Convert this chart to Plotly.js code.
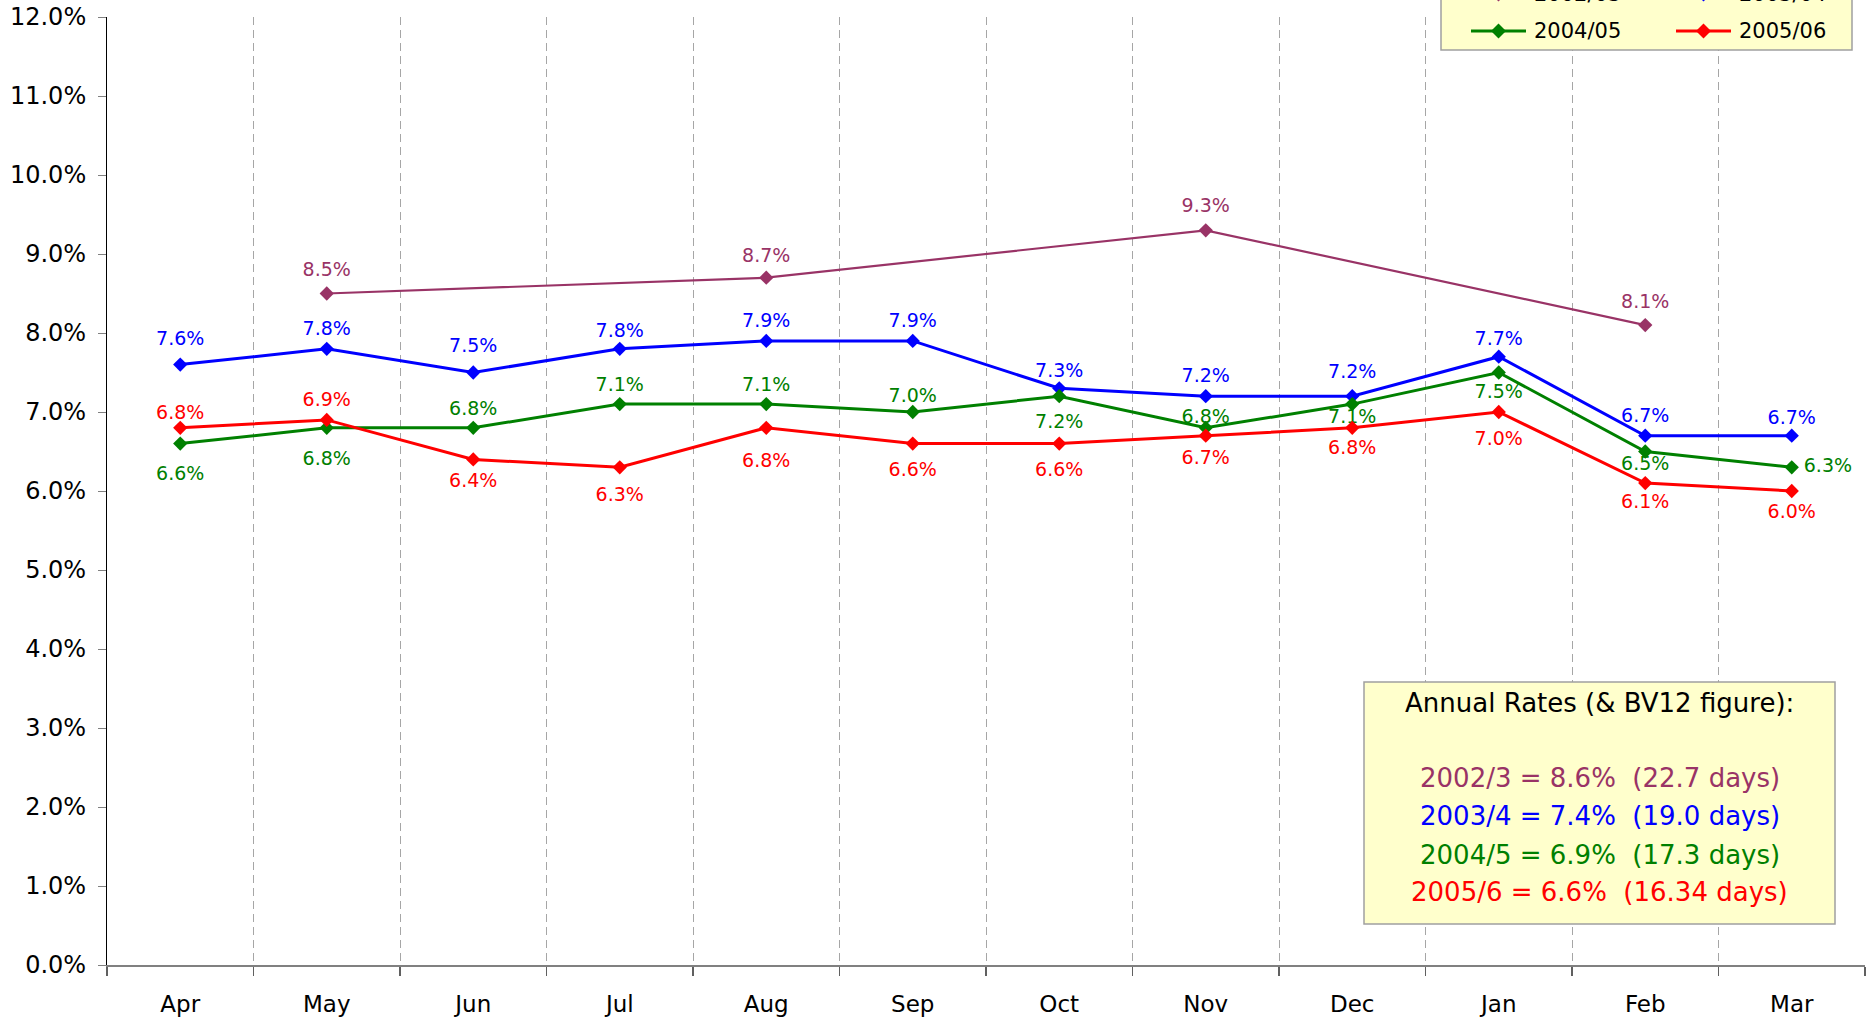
<!DOCTYPE html>
<html><head><meta charset="utf-8">
<script src="https://cdn.plot.ly/plotly-3.0.1.min.js"></script>
<style>html,body{margin:0;padding:0;background:#fff}#chart{width:1869px;height:1024px}</style>
</head><body><div id="chart"></div>
<script>
// ---- data ----
const months = ['Apr','May','Jun','Jul','Aug','Sep','Oct','Nov','Dec','Jan','Feb','Mar'];
const seriesNames = ['2002/03','2003/04','2004/05','2005/06'];
const rate0203 = [null,8.5,null,null,8.7,null,null,9.3,null,null,8.1,null];
const rate0304 = [7.6,7.8,7.5,7.8,7.9,7.9,7.3,7.2,7.2,7.7,6.7,6.7];
const rate0405 = [6.6,6.8,6.8,7.1,7.1,7.0,7.2,6.8,7.1,7.5,6.5,6.3];
const rate0506 = [6.8,6.9,6.4,6.3,6.8,6.6,6.6,6.7,6.8,7.0,6.1,6.0];
const annualTitle = 'Annual Rates (&amp; BV12 figure):';
const annualLines = ['2002/3 = 8.6%&nbsp;&nbsp;(22.7 days)','2003/4 = 7.4%&nbsp;&nbsp;(19.0 days)','2004/5 = 6.9%&nbsp;&nbsp;(17.3 days)','2005/6 = 6.6%&nbsp;&nbsp;(16.34 days)'];

// ---- style ----
const colors = ['#993366','#0000FF','#008000','#FF0000'];
const lineWidths = [2.2, 3, 3, 3];
const FONT = 'DejaVu Sans, Verdana, sans-serif';
const LABEL_SIZE = 19;
const B = 'bottom center', T = 'top center', R = 'middle right';
const pos0203 = months.map(() => T);
const pos0304 = months.map(() => T);
const pos0405 = [B,B,T,T,T,T,B,T,B,B,B,R];
const pos0506 = [T,T,B,B,B,B,B,B,B,B,B,B];
// label distance from marker centre (px) as placed in the reference
const gap0203 = [20,24,20,20,23,20,20,25,20,20,24,20];
const gap0304 = [27,21,27,19,21,21,18,21,25,19,21,19];
const gap0405 = [29,30,20,20,20,17,25,12,12,19,12,12];
const gap0506 = [16,21,21,27,32,25,25,21,19,26,18,20];

function padSize(pos, d) {
  let r;
  if (pos === T) r = d - 0.615 * LABEL_SIZE;
  else if (pos === B) r = d - 0.385 * LABEL_SIZE;
  else r = d;
  if (r <= 1) return 0;
  return (r - 1) * 1.6;
}

const W = 1869, H = 1024, ML = 107, MR = 4, MT = 17, MB = 59;
const PW = W - ML - MR, PH = H - MT - MB;
const px = x => (x - ML) / PW;
const py = y => (H - MB - y) / PH;

const data = [];
// data labels first (invisible markers only set the label offset)
[[rate0203,pos0203,gap0203],[rate0304,pos0304,gap0304],[rate0405,pos0405,gap0405],[rate0506,pos0506,gap0506]].forEach(([y,pos,gap], i) => {
  data.push({
    type:'scatter', mode:'markers+text', name:seriesNames[i] + ' labels', showlegend:false,
    x:months, y:y,
    marker:{size:pos.map((p, k) => padSize(p, gap[k])), color:'rgba(0,0,0,0)', opacity:0,
      line:{width:0, color:'rgba(0,0,0,0)'}},
    texttemplate:'%{y:.1f}%', textposition:pos,
    textfont:{family:FONT, size:LABEL_SIZE, color:colors[i]},
    cliponaxis:false, hoverinfo:'skip'
  });
});
[rate0203, rate0304, rate0405, rate0506].forEach((y, i) => {
  data.push({
    type:'scatter', mode:'lines+markers', name:seriesNames[i],
    x:months, y:y, connectgaps:true,
    line:{color:colors[i], width:lineWidths[i]},
    marker:{symbol:'diamond', size:11, color:colors[i], line:{width:0}},
    cliponaxis:false, hoverinfo:'skip'
  });
});

// legend (top row cropped by the page edge as in reference)
const shapes = [];
const annotations = [];
shapes.push({type:'rect', xref:'paper', yref:'paper', x0:px(1441), x1:px(1852), y0:py(50), y1:py(-40),
  fillcolor:'#FFFFCC', line:{color:'#A0A0A0', width:1.5}});
const legCols = [[1471,1526,1532],[1676,1731,1737]];
const legRows = [-6, 31];
seriesNames.forEach((n, i) => {
  const r = Math.floor(i / 2), c = i % 2;
  const yy = legRows[r], [x0, x1, tx] = legCols[c];
  const cx = (x0 + x1) / 2;
  shapes.push({type:'line', xref:'paper', yref:'paper', x0:px(x0), x1:px(x1), y0:py(yy), y1:py(yy),
    line:{color:colors[i], width:lineWidths[i]}});
  const d = 7.5;
  shapes.push({type:'path', xref:'paper', yref:'paper',
    path:`M${px(cx-d)},${py(yy)} L${px(cx)},${py(yy-d)} L${px(cx+d)},${py(yy)} L${px(cx)},${py(yy+d)} Z`,
    fillcolor:colors[i], line:{color:colors[i], width:0}});
  annotations.push({xref:'paper', yref:'paper', x:px(tx), y:py(yy), xanchor:'left', yanchor:'middle',
    text:n, showarrow:false, font:{family:FONT, size:21, color:'#000'}});
});

// annual rates box
shapes.push({type:'rect', xref:'paper', yref:'paper', x0:px(1364), x1:px(1835), y0:py(924), y1:py(682),
  fillcolor:'#FFFFCC', line:{color:'#A0A0A0', width:1.5}});
annotations.push({xref:'paper', yref:'paper', x:px(1599.5), y:py(703), xanchor:'center', yanchor:'middle',
  text:annualTitle, showarrow:false, font:{family:FONT, size:26, color:'#000'}});
const lineY = [778, 816, 855, 892];
annualLines.forEach((t, i) => {
  annotations.push({xref:'paper', yref:'paper', x:px(1599.5), y:py(lineY[i]), xanchor:'center', yanchor:'middle',
    text:t, showarrow:false, font:{family:FONT, size:26, color:colors[i]}});
});

const layout = {
  width: W, height: H, margin: {l:ML, r:MR, t:MT, b:MB},
  paper_bgcolor:'#fff', plot_bgcolor:'#fff', showlegend:false,
  font:{family:FONT, color:'#000'},
  xaxis: {type:'category', range:[-0.5, 11.5], tickson:'boundaries', ticks:'outside', ticklen:9,
    tickcolor:'#606060', tickwidth:1.5, showgrid:true, gridcolor:'#A6A6A6', gridwidth:1, griddash:'8px,5px',
    showline:true, linecolor:'#808080', linewidth:1.5, tickfont:{family:FONT, size:23, color:'#000'},
    ticklabelstandoff:18, zeroline:false, fixedrange:true},
  yaxis: {range:[0,12], dtick:1, tick0:0, tickformat:'.1f', ticksuffix:'%', ticks:'outside', ticklen:8,
    tickcolor:'#808080', showgrid:false, zeroline:false, showline:true, linecolor:'#000', linewidth:1,
    tickfont:{family:FONT, size:24, color:'#000'}, ticklabelstandoff:7, fixedrange:true},
  shapes: shapes, annotations: annotations
};
Plotly.newPlot('chart', data, layout, {displayModeBar:false, staticPlot:true});
</script></body></html>
